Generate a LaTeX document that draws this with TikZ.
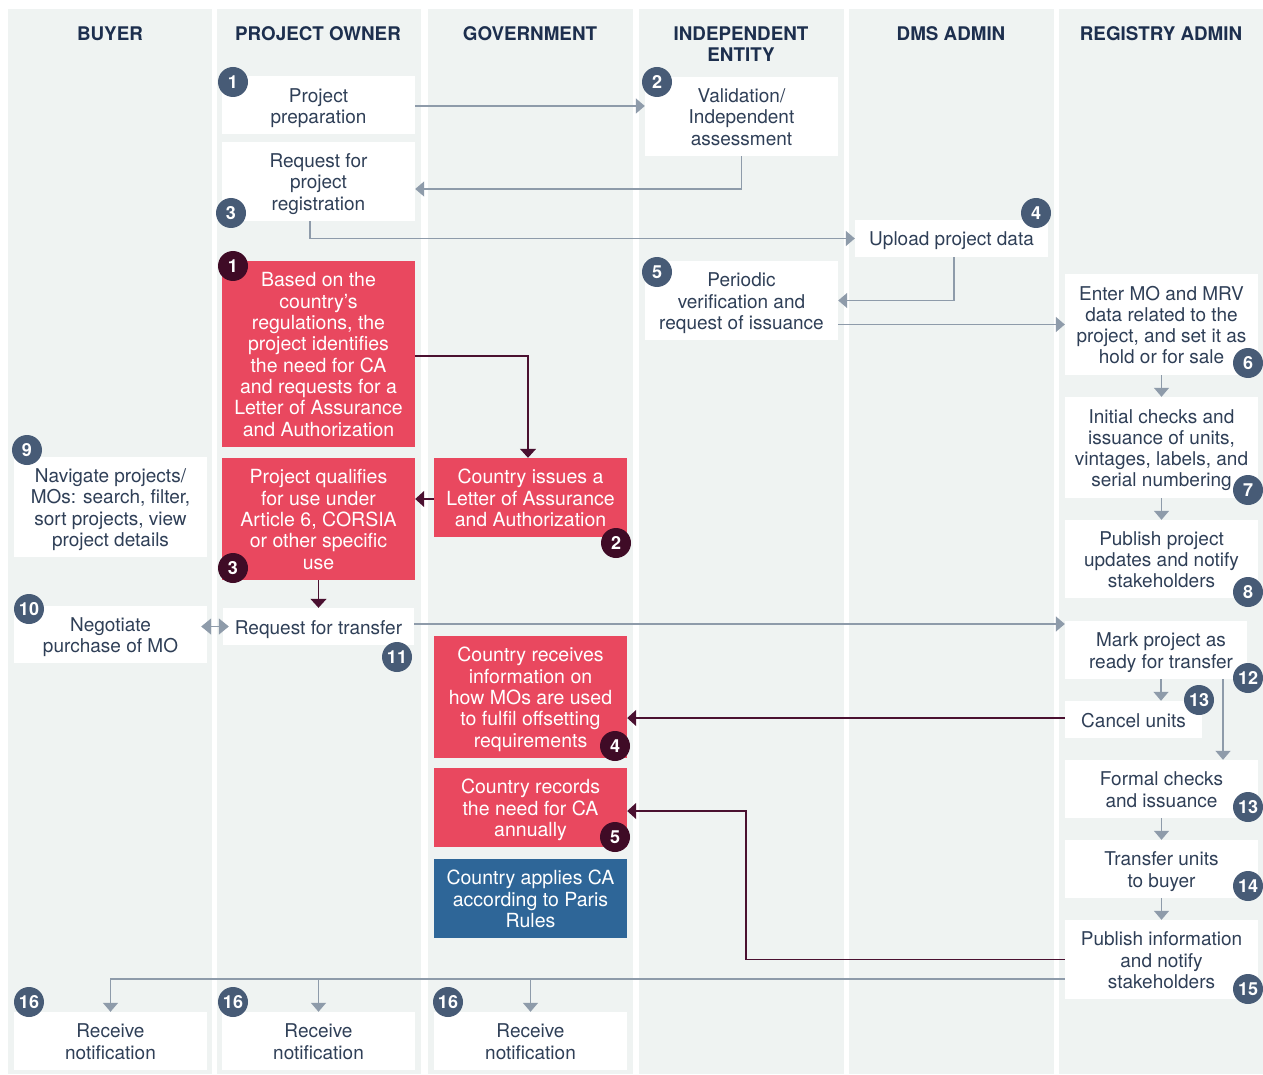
\documentclass[tikz,border=0pt]{standalone}
\usepackage{fontspec}
\setmainfont{TeX Gyre Heros}
\usetikzlibrary{arrows.meta,calc}
\definecolor{lanebg}{HTML}{EFF3F2}
\definecolor{txtc}{HTML}{2F3F57}
\definecolor{hdrc}{HTML}{1D2F4E}
\definecolor{slate}{HTML}{475B76}
\definecolor{redc}{HTML}{E9485F}
\definecolor{maroonb}{HTML}{3F0B26}
\definecolor{maroona}{HTML}{4A1030}
\definecolor{bluec}{HTML}{2E6698}
\definecolor{greyarr}{HTML}{8E9BAA}
\newcommand\fstrut{\rule{0pt}{21pt}}
\tikzset{
  lane/.style={fill=lanebg, draw=none},
  hdr/.style={text=hdrc, font=\fontsize{18.8}{21}\selectfont\bfseries, align=center, inner sep=0pt},
  wbox/.style={fill=white, text=txtc, align=center, inner sep=0pt,
    font=\fontsize{19}{21.3}\selectfont,
    execute at end node={\rule[-6pt]{0pt}{6pt}}},
  rbox/.style={wbox, fill=redc, text=white, font=\fontsize{19.5}{21.3}\selectfont},
  bbox/.style={wbox, fill=bluec, text=white, font=\fontsize{19.5}{21.3}\selectfont},
  badge/.style={circle, fill=slate, text=white, minimum size=30pt, inner sep=0pt, font=\fontsize{18}{18}\selectfont\bfseries},
  dbadge/.style={badge, fill=maroonb},
  garr/.style={draw=greyarr, line width=1.4pt, -{Triangle[width=15pt,length=9pt]}},
  gdbl/.style={draw=greyarr, line width=1.4pt, {Triangle[width=16pt,length=10pt]}-{Triangle[width=16pt,length=10pt]}},
  marr/.style={draw=maroona, line width=1.4pt, -{Triangle[width=16pt,length=9pt]}},
}
\begin{document}
\begin{tikzpicture}[x=1pt,y=-1pt]
\useasboundingbox (0,0) rectangle (1263,1075);
\fill[white] (0,0) rectangle (1263,1075);
% lanes
\fill[lane] (8,9) rectangle (212,1074);
\fill[lane] (217,9) rectangle (421,1074);
\fill[lane] (428,9) rectangle (633,1074);
\fill[lane] (639,9) rectangle (844,1074);
\fill[lane] (849,9) rectangle (1054,1074);
\fill[lane] (1059,9) rectangle (1263,1074);
% headers
\node[hdr] (h1) at (110,34) {BUYER};
\node[hdr] (h2) at (318,34) {PROJECT OWNER};
\node[hdr] (h3) at (530,34) {GOVERNMENT};
\node[hdr] (h4) at (741,44.5) {INDEPENDENT\\ENTITY};
\node[hdr] (h5) at (951,34) {DMS ADMIN};
\node[hdr] (h6) at (1161,34) {REGISTRY ADMIN};
% boxes
\node[wbox, minimum width=193pt, minimum height=58pt] (prep) at (318.5,105.5) {\fstrut Project\\preparation};
\node[wbox, minimum width=193pt, minimum height=79pt] (valid) at (741.5,116.5) {\fstrut Validation/\\Independent\\assessment};
\node[wbox, minimum width=193pt, minimum height=79pt] (reqreg) at (318.5,181.5) {\fstrut Request for\\project\\registration};
\node[wbox, minimum width=193pt, minimum height=37pt] (upload) at (951.5,238.5) {\fstrut Upload project data};
\node[rbox, minimum width=193pt, minimum height=186pt] (r1) at (318.5,354) {\fstrut Based on the\\country’s\\regulations, the\\project identifies\\the need for CA\\and requests for a\\Letter of Assurance\\and Authorization};
\node[wbox, minimum width=193pt, minimum height=79pt] (periodic) at (741.5,300.5) {\fstrut Periodic\\verification and\\request of issuance};
\node[wbox, minimum width=193pt, minimum height=101pt] (enter) at (1161.5,324.5) {\fstrut Enter MO and MRV\\data related to the\\project, and set it as\\hold or for sale};
\node[wbox, minimum width=193pt, minimum height=101pt] (initial) at (1161.5,447.5) {\fstrut Initial checks and\\issuance of units,\\vintages, labels, and\\serial numbering};
\node[rbox, minimum width=193pt, minimum height=79pt] (r2) at (530.5,497.5) {\fstrut Country issues a\\Letter of Assurance\\and Authorization};
\node[rbox, minimum width=193pt, minimum height=122pt] (r3) at (318.5,519) {\fstrut Project qualifies\\for use under\\Article 6, CORSIA\\or other specific\\use};
\node[wbox, minimum width=193pt, minimum height=100pt] (navigate) at (110.5,507) {\fstrut Navigate projects/\\MOs: search, filter,\\sort projects, view\\project details};
\node[wbox, minimum width=193pt, minimum height=78pt] (publish) at (1161.5,559) {\fstrut Publish project\\updates and notify\\stakeholders};
\node[wbox, minimum width=193pt, minimum height=57pt] (negotiate) at (110.5,634.5) {\fstrut Negotiate\\purchase of MO};
\node[wbox, minimum width=191pt, minimum height=37pt] (reqtr) at (318.5,626.5) {\fstrut Request for transfer};
\node[wbox, minimum width=182pt, minimum height=58pt] (mark) at (1156,650) {};
\node[wbox, fill=none] (markt) at (1161,650) {\fstrut Mark project as\\ready for transfer};
\node[rbox, minimum width=193pt, minimum height=122pt] (rec) at (530.5,697) {\fstrut Country receives\\information on\\how MOs are used\\to fulfil offsetting\\requirements};
\node[wbox, minimum width=137pt, minimum height=37pt] (cancel) at (1133.5,719.5) {\fstrut Cancel units};
\node[rbox, minimum width=193pt, minimum height=79pt] (recd) at (530.5,807.5) {\fstrut Country records\\the need for CA\\annually};
\node[wbox, minimum width=193pt, minimum height=58pt] (formal) at (1161.5,789) {\fstrut Formal checks\\and issuance};
\node[wbox, minimum width=193pt, minimum height=58pt] (transfer) at (1161.5,869) {\fstrut Transfer units\\to buyer};
\node[bbox, minimum width=193pt, minimum height=79pt] (blue) at (530.5,898.5) {\fstrut Country applies CA\\according to Paris\\Rules};
\node[wbox, minimum width=193pt, minimum height=79pt] (pubinfo) at (1161.5,959.5) {\fstrut Publish information\\and notify\\stakeholders};
\node[wbox, minimum width=193pt, minimum height=58pt] (recv1) at (110.5,1041) {\fstrut Receive\\notification};
\node[wbox, minimum width=193pt, minimum height=58pt] (recv2) at (318.5,1041) {\fstrut Receive\\notification};
\node[wbox, minimum width=193pt, minimum height=58pt] (recv3) at (530.5,1041) {\fstrut Receive\\notification};
% connectors
\draw[garr] ([yshift=-0.5pt]prep.east) -- ([yshift=-0.5pt]prep.east -| valid.west);
\draw[garr] (valid.south) |- ([yshift=-7.5pt]reqreg.east);
\draw[garr] ([xshift=-8.5pt]reqreg.south) |- (upload.west);
\draw[garr] ([xshift=2.5pt]upload.south) |- (periodic.east);
\draw[garr] ([yshift=-24pt]periodic.east) -- ([yshift=-24pt]periodic.east -| enter.west);
\draw[garr] (enter.south) -- (initial.north);
\draw[garr] (initial.south) -- (publish.north);
\draw[marr] ([yshift=-2pt]r1.east) -| ([xshift=-2.5pt]r2.north);
\draw[marr] ([yshift=-1.5pt]r2.west) -- ([yshift=-1.5pt]r2.west -| r3.east);
\draw[marr] (r3.south) -- (r3.south |- reqtr.north);
\draw[gdbl] ([xshift=-6pt]reqtr.west -| negotiate.east) -- ([xshift=6pt]reqtr.west);
\draw[garr] ([yshift=2.5pt]reqtr.east) -- ([yshift=2.5pt]reqtr.east -| mark.west);
\draw[garr] ([xshift=5pt]mark.south) -- ([xshift=5pt]mark.south |- cancel.north);
\draw[garr] ([xshift=67pt]mark.south) -- ([xshift=67pt]mark.south |- formal.north);
\draw[marr] ([yshift=1.5pt]cancel.west) -- ([yshift=1.5pt]cancel.west -| rec.east);
\draw[garr] (formal.south) -- (transfer.north);
\draw[garr] (transfer.south) -- (pubinfo.north);
\coordinate (j) at (746,811);
\draw[marr] (pubinfo.west) -| (j) -- (j -| recd.east);
\coordinate (bus) at ([yshift=-19.5pt]pubinfo.west);
\draw[garr] (bus) -| (recv1.north);
\draw[garr] (bus -| recv2.north) -- (recv2.north);
\draw[garr] (bus -| recv3.north) -- (recv3.north);
% badges
\node[badge] (b1) at (233,82) {1};
\node[badge] (b2) at (657,82) {2};
\node[badge] (b3) at (231,213) {3};
\node[badge] (b4) at (1036,213) {4};
\node[badge] (b5) at (657,272) {5};
\node[badge] (b6) at (1248,363) {6};
\node[badge] (b7) at (1248,490) {7};
\node[badge] (b8) at (1248,592) {8};
\node[badge] (b9) at (27,450) {9};
\node[badge] (b10) at (29,609) {10};
\node[badge] (b11) at (397,657) {11};
\node[badge] (b12) at (1248,678) {12};
\node[badge] (b13a) at (1199,700) {13};
\node[badge] (b13b) at (1248,807) {13};
\node[badge] (b14) at (1248,886) {14};
\node[badge] (b15) at (1248,989) {15};
\node[badge] (b16a) at (29,1002) {16};
\node[badge] (b16b) at (233,1002) {16};
\node[badge] (b16c) at (448,1002) {16};
\node[dbadge] (d1) at (233,266) {1};
\node[dbadge] (d2) at (616,543) {2};
\node[dbadge] (d3) at (233,568) {3};
\node[dbadge] (d4) at (615,746) {4};
\node[dbadge] (d5) at (615,837) {5};
\end{tikzpicture}
\end{document}
